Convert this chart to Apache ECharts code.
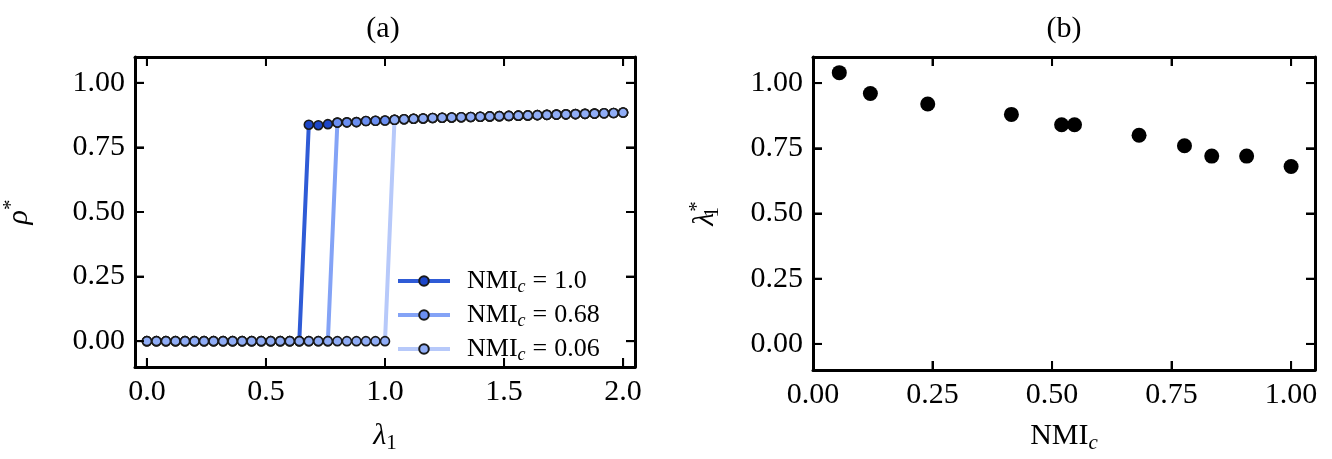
<!DOCTYPE html>
<html>
<head>
<meta charset="utf-8">
<script src="https://cdn.jsdelivr.net/npm/echarts@6/dist/echarts.min.js"></script>
<style>
html,body{margin:0;padding:0;background:#fff;}
#c{width:1332px;height:459px;}
</style>
</head>
<body>
<div id="c"></div>
<script>
// ---------- data ----------
const lambdaVals = [0.00,0.04,0.08,0.12,0.16,0.20,0.24,0.28,0.32,0.36,0.40,0.44,0.48,0.52,0.56,0.60,0.64,0.68,0.72,0.76,0.80,0.84,0.88,0.92,0.96,1.00,1.04,1.08,1.12,1.16,1.20,1.24,1.28,1.32,1.36,1.40,1.44,1.48,1.52,1.56,1.60,1.64,1.68,1.72,1.76,1.80,1.84,1.88,1.92,1.96,2.00];
const rhoNMI100 = [0,0,0,0,0,0,0,0,0,0,0,0,0,0,0,0,0,0.838,0.836,0.840,0.846,0.847,0.848,0.852,0.853,0.854,0.857,0.859,0.861,0.862,0.864,0.865,0.866,0.867,0.868,0.869,0.870,0.871,0.872,0.873,0.874,0.875,0.876,0.877,0.878,0.879,0.880,0.881,0.882,0.883,0.885];
const rhoNMI068 = [0,0,0,0,0,0,0,0,0,0,0,0,0,0,0,0,0,0,0,0,0.846,0.847,0.848,0.852,0.853,0.854,0.857,0.859,0.861,0.862,0.864,0.865,0.866,0.867,0.868,0.869,0.870,0.871,0.872,0.873,0.874,0.875,0.876,0.877,0.878,0.879,0.880,0.881,0.882,0.883,0.885];
const rhoNMI006 = [0,0,0,0,0,0,0,0,0,0,0,0,0,0,0,0,0,0,0,0,0,0,0,0,0,0,0.857,0.859,0.861,0.862,0.864,0.865,0.866,0.867,0.868,0.869,0.870,0.871,0.872,0.873,0.874,0.875,0.876,0.877,0.878,0.879,0.880,0.881,0.882,0.883,0.885];
const seriesNames = ['1.0','0.68','0.06'];

const nmiVals = [0.055,0.12,0.24,0.415,0.52,0.547,0.682,0.777,0.834,0.907,1.0];
const lambdaStar = [1.04,0.96,0.92,0.88,0.84,0.84,0.80,0.76,0.72,0.72,0.68];

const xTicksA = [0,0.5,1.0,1.5,2.0];
const yTicks = [0,0.25,0.5,0.75,1.0];
const xTicksB = [0,0.25,0.5,0.75,1.0];

// ---------- style ----------
const FF = '"Liberation Serif", "DejaVu Serif", serif';
const FS = 30;
const richMath = {
  m: {fontFamily: FF, fontSize: FS, fontStyle: 'italic', color: '#000', lineHeight: 36},
  r: {fontFamily: FF, fontSize: FS, color: '#000', lineHeight: 36},
  s: {fontFamily: FF, fontSize: 21, color: '#000', lineHeight: 20, verticalAlign: 'bottom'},
  s0: {fontFamily: FF, fontSize: 21, color: '#000', lineHeight: 20, verticalAlign: 'bottom', width: 1},
  si: {fontFamily: FF, fontSize: 21, fontStyle: 'italic', color: '#000', lineHeight: 20, verticalAlign: 'bottom'},
  p: {fontFamily: FF, fontSize: 21, color: '#000', lineHeight: 20, verticalAlign: 'top'}
};
const lineCols = ['#2f5bd6', '#84a3f6', '#b7c9fa'];
const markCols = ['#1c46c9', '#6b8ff1', '#90adf6'];

function axisCommon(min, max, ticks, fmt, showLabel) {
  return {
    type: 'value', min: min, max: max,
    splitLine: {show: false},
    axisLine: {show: true, onZero: false, lineStyle: {color: '#000', width: 3}},
    axisTick: {show: true, inside: true, length: 9, customValues: ticks, lineStyle: {color: '#000', width: 2}},
    axisLabel: {show: showLabel, customValues: ticks, formatter: v => v.toFixed(fmt), fontFamily: FF, fontSize: FS, color: '#000', margin: 10}
  };
}

const xAxes = [], yAxes = [];
// grid 0
xAxes.push(Object.assign(axisCommon(-0.05, 2.05, xTicksA, 1, true), {gridIndex: 0, position: 'bottom',
  name: '{m|λ}{s|1}', nameLocation: 'middle', nameGap: 51, nameTextStyle: {rich: richMath}}));
xAxes.push(Object.assign(axisCommon(-0.05, 2.05, xTicksA, 1, false), {gridIndex: 0, position: 'top'}));
yAxes.push(Object.assign(axisCommon(-0.1, 1.1, yTicks, 2, true), {gridIndex: 0, position: 'left',
  name: '{m|ρ}{p|*}', nameLocation: 'middle', nameGap: 98, nameTextStyle: {rich: richMath}}));
yAxes.push(Object.assign(axisCommon(-0.1, 1.1, yTicks, 2, false), {gridIndex: 0, position: 'right'}));
// grid 1
xAxes.push(Object.assign(axisCommon(0, 1.05, xTicksB, 2, true), {gridIndex: 1, position: 'bottom',
  name: '{r|NMI}{si|c}', nameLocation: 'middle', nameGap: 48, nameTextStyle: {rich: richMath}}));
xAxes.push(Object.assign(axisCommon(0, 1.05, xTicksB, 2, false), {gridIndex: 1, position: 'top'}));
yAxes.push(Object.assign(axisCommon(-0.1, 1.1, yTicks, 2, true), {gridIndex: 1, position: 'left',
  name: '{m|λ}{s0|1}{p|*}', nameLocation: 'middle', nameGap: 90, nameTextStyle: {rich: richMath}}));
yAxes.push(Object.assign(axisCommon(-0.1, 1.1, yTicks, 2, false), {gridIndex: 1, position: 'right'}));

const rhoSets = [rhoNMI100, rhoNMI068, rhoNMI006];
const lineSeries = rhoSets.map((arr, i) => ({
  type: 'line', name: seriesNames[i], xAxisIndex: 0, yAxisIndex: 0,
  data: lambdaVals.map((x, k) => [x, arr[k]]),
  symbol: 'circle', symbolSize: 9, showSymbol: true,
  lineStyle: {color: lineCols[i], width: 4},
  itemStyle: {color: markCols[i], borderColor: '#1a1a1a', borderWidth: 1.6}
}));

const scatterSeries = {
  type: 'scatter', xAxisIndex: 2, yAxisIndex: 2,
  data: nmiVals.map((x, k) => [x, lambdaStar[k]]),
  symbol: 'circle', symbolSize: 15,
  itemStyle: {color: '#000', opacity: 1}
};

// inward ticks on all four sides, placed through the axes' own scales
function tickSeries(dir, xi, yi, data) {
  return {
    type: 'custom', name: 'ticks', coordinateSystem: 'cartesian2d', xAxisIndex: xi, yAxisIndex: yi, silent: true, z: 10,
    data: data,
    renderItem: function (params, api) {
      const cs = params.coordSys;
      const p = api.coord([api.value(0), api.value(1)]);
      const L = 9;
      if (dir === 'x') {
        return {type: 'group', children: [
          {type: 'line', shape: {x1: p[0], y1: cs.y + cs.height, x2: p[0], y2: cs.y + cs.height - L}, style: {stroke: '#000', lineWidth: 2}},
          {type: 'line', shape: {x1: p[0], y1: cs.y, x2: p[0], y2: cs.y + L}, style: {stroke: '#000', lineWidth: 2}}
        ]};
      }
      return {type: 'group', children: [
        {type: 'line', shape: {x1: cs.x, y1: p[1], x2: cs.x + L, y2: p[1]}, style: {stroke: '#000', lineWidth: 2}},
        {type: 'line', shape: {x1: cs.x + cs.width, y1: p[1], x2: cs.x + cs.width - L, y2: p[1]}, style: {stroke: '#000', lineWidth: 2}}
      ]};
    }
  };
}
const tickSeriesList = [
  tickSeries('x', 0, 0, xTicksA.map(v => [v, 0.5])),
  tickSeries('y', 0, 0, yTicks.map(v => [1.0, v])),
  tickSeries('x', 2, 2, xTicksB.map(v => [v, 0.5])),
  tickSeries('y', 2, 2, yTicks.map(v => [0.5, v]))
];

const legendRich = {
  n: {fontFamily: FF, fontSize: 26, color: '#000', lineHeight: 30},
  c: {fontFamily: FF, fontSize: 18, fontStyle: 'italic', color: '#000', lineHeight: 18, verticalAlign: 'bottom'},
  e: {fontFamily: FF, fontSize: 26, color: '#000', lineHeight: 30, padding: [0, 7, 0, 7]}
};

const option = {
  animation: false,
  backgroundColor: '#fff',
  grid: [
    {left: 132, top: 57, width: 503, height: 325},
    {left: 813, top: 57, width: 502, height: 325}
  ],
  xAxis: xAxes,
  yAxis: yAxes,
  legend: {
    show: true, orient: 'vertical', left: 396, top: 268, padding: 0,
    itemWidth: 52, itemHeight: 12, itemGap: 6,
    data: seriesNames,
    lineStyle: {width: 4},
    formatter: n => '{n|NMI}{c|c}{e|=}{n|' + n + '}',
    textStyle: {rich: legendRich, padding: [0, 0, 0, 12]}
  },
  graphic: [
    {type: 'text', x: 383, y: 29, style: {text: '(a)', fontFamily: FF, fontSize: FS, fill: '#000', align: 'center', verticalAlign: 'middle'}},
    {type: 'text', x: 1064, y: 29, style: {text: '(b)', fontFamily: FF, fontSize: FS, fill: '#000', align: 'center', verticalAlign: 'middle'}}
  ],
  series: lineSeries.concat([scatterSeries]).concat(tickSeriesList)
};

const chart = echarts.init(document.getElementById('c'), null, {renderer: 'canvas'});
chart.setOption(option);
</script>
</body>
</html>
